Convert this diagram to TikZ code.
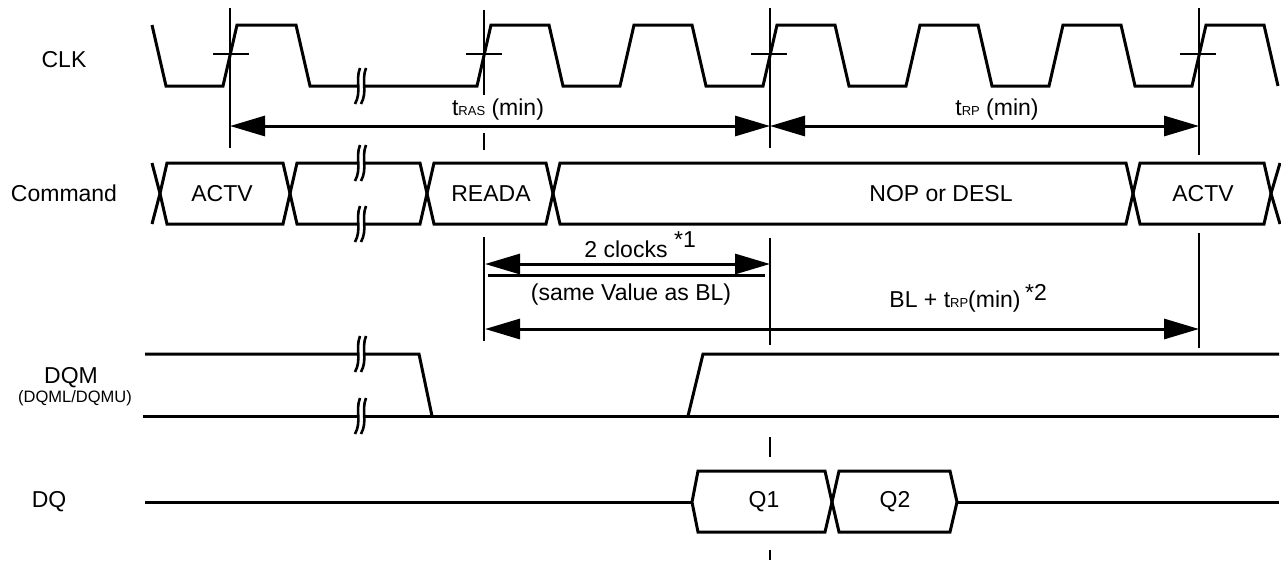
\documentclass[tikz,border=0pt]{standalone}
\usepackage{fontspec}
\setmainfont{Liberation Sans}
\usetikzlibrary{arrows.meta}
\newcommand\tsub[1]{{\fontsize{13}{13}\selectfont #1}}
\begin{document}
\begin{tikzpicture}[x=1pt,y=-1pt,
  sig/.style={line width=3pt, line join=miter},
  mk/.style={line width=2.8pt},
  dimline/.style={line width=3pt, {Triangle[length=35pt,width=20pt]}-{Triangle[length=35pt,width=20pt]}},
  lbl/.style={font=\fontsize{23}{27}\selectfont, inner sep=0pt, anchor=base},
  sml/.style={font=\fontsize{16.5}{19}\selectfont, inner sep=0pt, anchor=base},
  brk/.pic={
    \fill[white] (2,-18) .. controls (-3,-5) and (4,5) .. (-3,18) -- (3,18) .. controls (10,5) and (3,-5) .. (8,-18) -- cycle;
    \draw[line width=2.6pt] (2,-18) .. controls (-3,-5) and (4,5) .. (-3,18);
    \draw[line width=2.6pt] (8,-18) .. controls (3,-5) and (10,5) .. (3,18);
  }]
\useasboundingbox (0,0) rectangle (1281,560);

% ---- labels
\node[lbl] (lclk) at (64,67) {CLK};
\node[lbl] (lcmd) at (64,201) {Command};
\node[lbl] (ldqm) at (71,383) {DQM};
\node[sml] (ldqmx) at (75,402) {(DQML/DQMU)};
\node[lbl] (ldq) at (49,507) {DQ};

% ---- CLK
\draw[sig] (152,25) -- (166,86) -- (223,86) -- (237,25) -- (296,25) -- (310,86)
  foreach \r in {484,627,770,913,1056,1199} { -- ({\r-7},86) -- ({\r+7},25) -- ({\r+65},25) -- ({\r+79},86) };
\pic at (358,86) {brk};

% ---- Command bus
\draw[sig] (152,163) -- (160,193.5) -- (152,224);
\foreach \a/\b in {160/290,290/427,427/553,553/1133,1133/1271}
  \draw[sig] (\a,193.5) -- ({\a+7},163) -- ({\b-7},163) -- (\b,193.5) -- ({\b-7},224) -- ({\a+7},224) -- cycle;
\draw[sig] (1280,163) -- (1271,193.5) -- (1280,224);
\pic at (358,163) {brk};
\pic at (358,224) {brk};
\node[lbl] (c1) at (222,201) {ACTV};
\node[lbl] (c2) at (491,201) {READA};
\node[lbl] (c3) at (941,201) {NOP or DESL};
\node[lbl] (c4) at (1203,201) {ACTV};

% ---- DQM
\draw[sig] (145,354) -- (419,354) -- (432,416);
\draw[sig] (143,416) -- (1279,416);
\draw[sig] (688,416) -- (703,354) -- (1279,354);
\pic at (358,354) {brk};
\pic at (358,416) {brk};

% ---- DQ
\draw[sig] (145,502) -- (692,502);
\draw[sig] (692,502) -- (698,471) -- (825,471) -- (832,502) -- (825,532) -- (698,532) -- cycle;
\draw[sig] (832,502) -- (839,471) -- (950,471) -- (957,502) -- (950,532) -- (839,532) -- cycle;
\draw[sig] (957,502) -- (1279,502);
\node[lbl] (q1) at (764,507) {Q1};
\node[lbl] (q2) at (895,507) {Q2};

% ---- reference lines and ticks
\draw[mk] (230,8) -- (230,148);
\draw[mk] (484,10) -- (484,95);
\draw[mk] (484,133) -- (484,150);
\draw[mk] (484,237) -- (484,341);
\draw[mk] (770,8) -- (770,148);
\draw[mk] (770,238) -- (770,345);
\draw[mk] (770,437) -- (770,457);
\draw[mk] (770,550) -- (770,560);
\draw[mk] (1199,8) -- (1199,155);
\draw[mk] (1199,233) -- (1199,348);
\foreach \x in {231,484,769,1198}
  \draw[mk] ({\x-18},54) -- ({\x+18},54);

% ---- dimension arrows
\coordinate (ta) at (230,126);
\coordinate (tb) at (770,126);
\coordinate (tc) at (1199,126);
\draw[dimline] (ta) -- (tb);
\draw[dimline] (tb) -- (tc);
\node[lbl] (tras) at (498,115) {t\tsub{RAS} (min)};
\node[lbl] (trp) at (997,115) {t\tsub{RP} (min)};

\coordinate (ka) at (485,264);
\coordinate (kb) at (770,264);
\draw[dimline] (ka) -- (kb);
\coordinate (ua) at (488,275);
\coordinate (ub) at (765,275);
\draw[line width=3pt] (ua) -- (ub);
\node[lbl] (clk2) at (626,257) {2 clocks};
\node[lbl, anchor=base west] (n1) at (674,247) {*1};
\node[lbl] (same) at (631,300) {(same Value as BL)};

\coordinate (ba) at (485,329);
\coordinate (bb) at (1199,329);
\draw[dimline] (ba) -- (bb);
\node[lbl] (blt) at (955,307) {BL + t\tsub{RP}(min)};
\node[lbl, anchor=base west] (n2) at (1025,300) {*2};
\end{tikzpicture}
\end{document}
